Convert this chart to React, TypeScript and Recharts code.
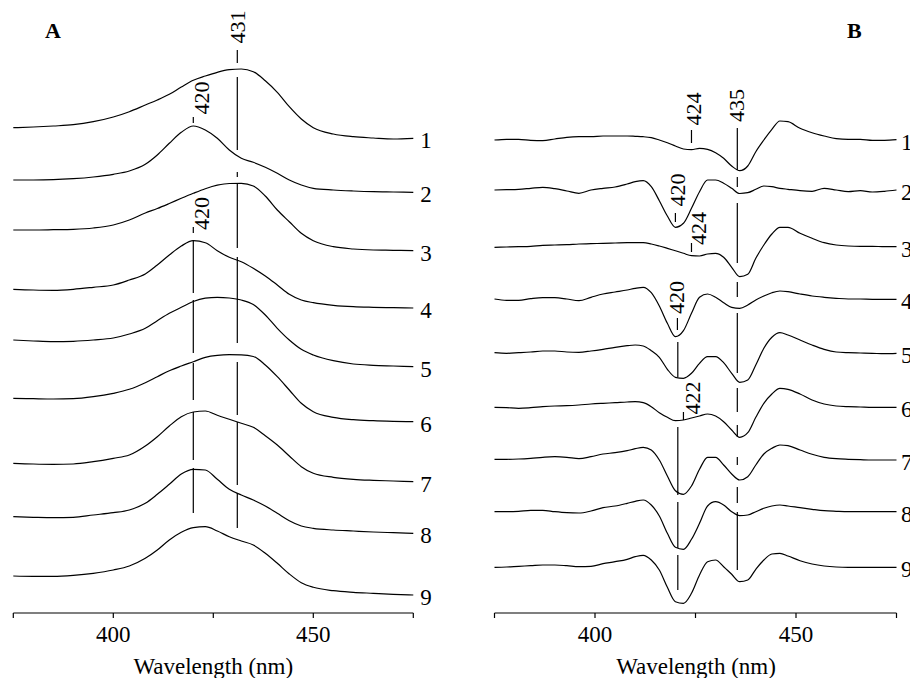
import { LineChart, Line, XAxis, YAxis, ReferenceLine, ReferenceDot } from 'recharts';

const FONT = '"Liberation Serif", "Times New Roman", Times, serif';

// Panel A: absorbance spectra, stacked (arbitrary offset units)
const wavelengthA = [375, 380, 385, 390, 395, 400, 404, 408, 411, 414, 417, 420, 423, 426, 429, 432, 435, 438, 441, 444, 447, 450, 455, 460, 465, 470, 475];

const specA1 = [485.3, 486, 487, 488.3, 491.3, 496, 501.3, 508, 513, 518.7, 526, 532.7, 537, 540.7, 543.3, 544, 541.3, 532.3, 520.7, 506.3, 494, 485.3, 479, 476.3, 475, 474, 474.7];
const specA2 = [433, 433, 433.3, 434.3, 436, 438.7, 442, 448.7, 458, 469.7, 480.7, 487, 483, 474.7, 463, 454.7, 450.7, 445.7, 439.7, 433, 428, 424.7, 423, 422, 421.3, 421, 420.7];
const specA3 = [383, 383, 383.3, 383.7, 385, 388, 393, 400, 404.5, 409.5, 414.7, 419.7, 424.3, 427.8, 429.5, 429.6, 427, 417, 403, 391.3, 379.7, 372.3, 366.3, 364, 363, 362.7, 362.3];
const specA4 = [323.7, 323, 322.7, 323.7, 325.7, 328, 333, 339, 348, 358, 367, 372.3, 370.3, 362.3, 355.7, 351.3, 344.7, 337, 328, 318.7, 313, 310.3, 307.7, 306.3, 305.7, 305.3, 305];
const specA5 = [273, 272, 271.3, 271.7, 273, 275, 279, 284.7, 292.3, 299.7, 305.7, 311.5, 314.8, 315.7, 315, 313, 308.5, 298, 284.7, 273, 263.7, 258, 252.3, 249, 247.7, 247, 246.3];
const specA6 = [214.7, 214.3, 214, 214.3, 216.3, 219.7, 223.7, 230.3, 236.3, 242.3, 247, 251.3, 255.7, 257.7, 258.3, 258.1, 256.5, 248, 236.3, 223, 209.7, 201.3, 195.7, 193.3, 192.3, 191.7, 191.3];
const specA7 = [149.7, 149, 148.7, 149, 151.3, 154.7, 158, 167, 176.3, 187, 196.3, 201, 202, 197.7, 193.7, 189.7, 185.7, 177.3, 168, 157, 146.3, 139.7, 135.7, 133.7, 132.7, 132, 131.3];
const specA8 = [96.3, 95.7, 95.3, 95.7, 98, 100.3, 103, 109.7, 118.7, 128.7, 139, 143.7, 143, 133.7, 123.7, 118, 113, 107, 99.7, 92.3, 87, 84.7, 83, 82, 81, 80.3, 79.7];
const specA9 = [37, 36.7, 36.7, 37.7, 39.7, 43, 47, 54.7, 63, 73, 80.7, 85.3, 86.3, 82, 76.3, 72, 68, 59.7, 49.7, 39, 30.3, 25.7, 22.3, 20.7, 19.7, 18.7, 18];

// Panel B: difference spectra, stacked
const wavelengthB = [375, 378, 381, 384, 387, 390, 393, 396, 399, 402, 405, 408, 410, 412, 414, 416, 418, 420, 422, 424, 426, 428, 430, 432, 434, 436, 438, 440, 442, 444, 446, 448, 451, 454, 457, 460, 463, 466, 469, 472, 475];

const specB1 = [473, 473.7, 473.7, 472.7, 472.3, 474, 475.7, 476.3, 476.3, 477, 477, 477, 476.7, 476.3, 475.3, 473, 470.3, 467, 464, 463.3, 464.7, 463.7, 460.3, 454.7, 447, 442.3, 447, 461.3, 473, 483.7, 492, 491.3, 484.7, 480.3, 477, 474.3, 473.7, 473.7, 472.7, 472.7, 473.3];
const specB2 = [423, 423.3, 423.7, 424.7, 425.7, 424.3, 422, 419.7, 423, 424.7, 426, 429, 431.3, 432.3, 426.3, 412.3, 397, 385.7, 389.7, 404.7, 421.3, 433, 433, 429.7, 424.7, 419.5, 420.3, 423.7, 427, 426.3, 424.7, 423.7, 422.3, 421.7, 424.7, 423, 421.3, 422.3, 421, 421.7, 423];
const specB3 = [365.7, 366, 366.3, 366.7, 367.7, 368, 368.3, 369, 369.3, 369.7, 370, 370.3, 370.3, 370.3, 369, 367, 364.7, 362.3, 359.7, 357.3, 357, 359, 359.7, 355.7, 345.7, 336.3, 338.7, 354.7, 368, 379, 385.7, 385.7, 379.7, 374.7, 370.3, 368, 367, 366.7, 366.7, 366.3, 366.3];
const specB4 = [314, 312.7, 312.7, 314.3, 315.3, 315.3, 314, 312.3, 315.7, 319, 321, 323, 324.7, 325.7, 320.3, 307, 289.7, 276.3, 282.3, 299.7, 315.7, 319, 315.7, 310.3, 305.7, 304.7, 308, 313, 317, 320.3, 322, 321.3, 319, 317, 315.7, 314.7, 314, 314, 313.7, 313.7, 313.7];
const specB5 = [260.3, 259.7, 260.3, 261, 262, 262, 261, 260.7, 262, 263.7, 265.7, 267.3, 268, 267, 262.3, 255.7, 243.7, 235.7, 234.7, 239.7, 249.7, 256.3, 256.3, 250.3, 239.7, 230.7, 233, 248, 264.7, 275.7, 280.3, 278, 273, 268, 263.7, 261, 260.3, 260, 259.7, 259.3, 259.7];
const specB6 = [205.7, 205.3, 204.7, 205.3, 206.3, 207, 207.3, 208, 209, 209.7, 210.3, 211, 211.3, 210.3, 206.3, 200.3, 195.7, 192.3, 193, 195, 197, 199, 197, 191.3, 183, 175.7, 180.3, 195.7, 209.7, 219, 224.7, 223.7, 219, 213, 209, 207, 206.3, 206, 205.7, 205.7, 205.7];
const specB7 = [153.7, 153.7, 154, 154.7, 155.7, 156.3, 155.7, 154.3, 156.3, 159, 160.3, 162.3, 164.3, 165.7, 163, 153, 137, 122.3, 118.7, 127, 143.7, 155.7, 155.7, 148, 139, 133, 136.3, 148, 159, 164.7, 168, 167.3, 163, 158.7, 155.7, 154.3, 153.7, 153.3, 153, 153, 153];
const specB8 = [101.3, 101.3, 101.7, 102.7, 102.7, 101.3, 100.3, 100, 102, 105.3, 107, 109.7, 111.7, 113, 108, 97, 79.7, 65.7, 63.7, 73.7, 89.7, 107, 111.3, 108, 101.3, 97.3, 98, 101.3, 104.7, 107, 108, 107, 105.3, 103.7, 102.3, 101.7, 101.3, 101.3, 101.3, 101.3, 101.3];
const specB9 = [45.7, 46, 46.7, 47.3, 48, 48, 47.3, 46.3, 46.7, 49.3, 51.3, 53.7, 56.3, 57.7, 53, 43, 25.7, 11.3, 9.7, 19.7, 38, 51.3, 53, 46.3, 38.7, 31.3, 33, 43.7, 53, 59, 59.7, 57, 52.3, 49, 47, 46, 45.7, 45.7, 45.7, 45.7, 45.7];

const curveLabels = ['1', '2', '3', '4', '5', '6', '7', '8', '9'];
const xTicks = [375, 400, 425, 450, 475];
const xTickLabels = ['', '400', '', '450', ''];

// marker lines: wavelength and the visible pieces (from, to) in offset units
const markersA = [
  { wl: 431, parts: [[563, 550], [536, 463], [441, 436], [430, 365], [356, 270], [251, 198], [191, 128], [120, 85]] },
  { wl: 420, parts: [[496, 490], [386, 380], [373, 320], [313, 260], [250, 213], [201, 153], [145, 100]] },
];
const notesA = [
  { wl: 431, y: 586, text: '431' },
  { wl: 422, y: 515, text: '420' },
  { wl: 422, y: 399.5, text: '420' },
];

const markersB = [
  { wl: 424, parts: [[483, 470], [370, 361]] },
  { wl: 435.4, parts: [[485, 443], [436, 426], [410, 350], [331, 316], [300, 240], [225, 201], [188, 176], [156, 148], [126, 110], [101, 43]] },
  { wl: 420, parts: [[400, 391]] },
  { wl: 420.5, parts: [[295, 283]] },
  { wl: 422, parts: [[201, 193]] },
  { wl: 420.6, parts: [[271, 236], [186, 118], [111, 65], [58, 23]] },
];
const notesB = [
  { wl: 424.6, y: 504, text: '424' },
  { wl: 435.3, y: 507.5, text: '435' },
  { wl: 420.6, y: 423, text: '420' },
  { wl: 425.7, y: 384.5, text: '424' },
  { wl: 420.3, y: 315.5, text: '420' },
  { wl: 424.3, y: 215, text: '422' },
];

type Marker = { wl: number; parts: number[][] };
type Note = { wl: number; y: number; text: string };

type PanelProps = {
  left: number;
  marginLeft: number;
  marginRight: number;
  labelGap: number;
  wavelengths: number[];
  series: number[][];
  markers: Marker[];
  notes: Note[];
};

function SpectraPanel({ left, marginLeft, marginRight, labelGap, wavelengths, series, markers, notes }: PanelProps) {
  const rows = wavelengths.map((wl, i) => {
    const row: Record<string, number> = { wl };
    series.forEach((s, k) => {
      row[`c${k}`] = s[i];
    });
    return row;
  });
  const lastWl = wavelengths[wavelengths.length - 1];

  return (
    <div style={{ position: 'absolute', left, top: 0 }}>
      <LineChart
        width={455}
        height={678}
        data={rows}
        margin={{ top: 13, right: marginRight, bottom: 35, left: marginLeft }}
      >
        <XAxis
          dataKey="wl"
          type="number"
          domain={[375, 475]}
          ticks={xTicks}
          interval={0}
          tickFormatter={(v: number) => xTickLabels[xTicks.indexOf(v)] ?? ''}
          height={30}
          tickSize={5}
          tickMargin={8}
          axisLine={{ stroke: '#000', strokeWidth: 1.2 }}
          tickLine={{ stroke: '#000', strokeWidth: 1.2 }}
          tick={{ fill: '#000', fontSize: 23, fontFamily: FONT }}
        />
        <YAxis hide type="number" domain={[0, 600]} />
        {markers.map((m, i) =>
          m.parts.map(([a, b], j) => (
            <ReferenceLine
              key={`m${i}-${j}`}
              segment={[{ x: m.wl, y: a }, { x: m.wl, y: b }]}
              stroke="#000"
              strokeWidth={1.2}
            />
          ))
        )}
        {series.map((_, k) => (
          <Line
            key={`c${k}`}
            dataKey={`c${k}`}
            type="monotone"
            stroke="#000"
            strokeWidth={1.2}
            dot={false}
            activeDot={false}
            isAnimationActive={false}
          />
        ))}
        {series.map((s, k) => (
          <ReferenceDot
            key={`lab${k}`}
            x={lastWl}
            y={s[s.length - 1]}
            r={0}
            shape={(p: any) => (
              <text
                x={p.cx + labelGap}
                y={p.cy + 2}
                dy="0.35em"
                fontSize={23}
                fontFamily={FONT}
                fill="#000"
              >
                {curveLabels[k]}
              </text>
            )}
          />
        ))}
        {notes.map((n, i) => (
          <ReferenceDot
            key={`n${i}`}
            x={n.wl}
            y={n.y}
            r={0}
            shape={(p: any) => (
              <text
                x={p.cx}
                y={p.cy}
                transform={`rotate(-90 ${p.cx} ${p.cy})`}
                textAnchor="middle"
                dy="0.34em"
                fontSize={22}
                fontFamily={FONT}
                fill="#000"
              >
                {n.text}
              </text>
            )}
          />
        ))}
      </LineChart>
    </div>
  );
}

export default function App() {
  return (
    <div
      style={{
        position: 'absolute',
        left: 0,
        top: 0,
        width: 910,
        height: 678,
        background: '#fff',
        overflow: 'hidden',
      }}
    >
      <SpectraPanel
        left={0}
        marginLeft={13.3}
        marginRight={41.7}
        labelGap={7}
        wavelengths={wavelengthA}
        series={[specA1, specA2, specA3, specA4, specA5, specA6, specA7, specA8, specA9]}
        markers={markersA}
        notes={notesA}
      />
      <SpectraPanel
        left={455}
        marginLeft={39.5}
        marginRight={13.5}
        labelGap={4.5}
        wavelengths={wavelengthB}
        series={[specB1, specB2, specB3, specB4, specB5, specB6, specB7, specB8, specB9]}
        markers={markersB}
        notes={notesB}
      />
      <svg
        width={910}
        height={678}
        style={{ position: 'absolute', left: 0, top: 0, pointerEvents: 'none' }}
      >
        <text x={45} y={38} fontSize={22} fontWeight="bold" fontFamily={FONT} fill="#000">
          A
        </text>
        <text x={847} y={38} fontSize={22} fontWeight="bold" fontFamily={FONT} fill="#000">
          B
        </text>
        <text x={213.3} y={674} textAnchor="middle" fontSize={23} fontFamily={FONT} fill="#000">
          Wavelength (nm)
        </text>
        <text x={696} y={674} textAnchor="middle" fontSize={23} fontFamily={FONT} fill="#000">
          Wavelength (nm)
        </text>
      </svg>
    </div>
  );
}
